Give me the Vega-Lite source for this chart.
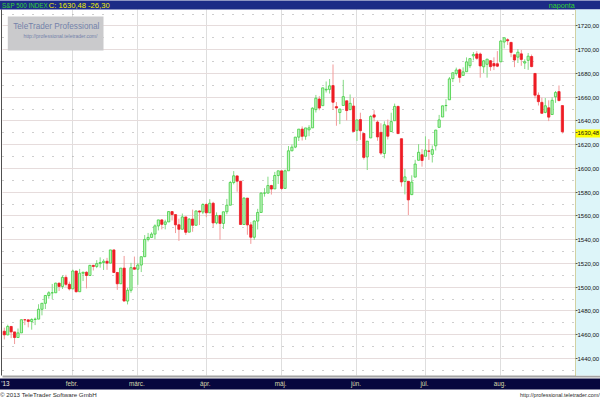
{
  "$schema": "https://vega.github.io/schema/vega-lite/v6.json",
  "width": 598,
  "height": 366,
  "autosize": {"type": "none"},
  "padding": {"left": 2, "top": 9, "right": 0, "bottom": 25},
  "background": "white",
  "config": {
    "view": {"stroke": null},
    "axis": {"labelFont": "Liberation Sans", "labelFontSize": 6.3, "title": null},
    "axisX": {"labelAngle": 0}
  },
  "data": {"values": [
    {"d":"2013-01-03","o":1462.42,"h":1465.47,"l":1455.53,"c":1459.37},
    {"d":"2013-01-04","o":1459.37,"h":1467.94,"l":1458.99,"c":1466.47},
    {"d":"2013-01-07","o":1466.47,"h":1466.47,"l":1456.62,"c":1461.89},
    {"d":"2013-01-08","o":1461.89,"h":1461.89,"l":1451.64,"c":1457.15},
    {"d":"2013-01-09","o":1457.15,"h":1464.73,"l":1457.15,"c":1461.02},
    {"d":"2013-01-10","o":1461.02,"h":1472.30,"l":1461.02,"c":1472.12},
    {"d":"2013-01-11","o":1472.12,"h":1472.75,"l":1467.58,"c":1472.05},
    {"d":"2013-01-14","o":1472.05,"h":1472.05,"l":1465.69,"c":1470.68},
    {"d":"2013-01-15","o":1470.67,"h":1473.31,"l":1463.76,"c":1472.34},
    {"d":"2013-01-16","o":1472.33,"h":1473.96,"l":1467.60,"c":1472.63},
    {"d":"2013-01-17","o":1472.63,"h":1485.16,"l":1472.63,"c":1480.94},
    {"d":"2013-01-18","o":1480.95,"h":1485.98,"l":1475.81,"c":1485.98},
    {"d":"2013-01-22","o":1485.98,"h":1492.56,"l":1481.16,"c":1492.56},
    {"d":"2013-01-23","o":1492.56,"h":1496.13,"l":1489.90,"c":1494.81},
    {"d":"2013-01-24","o":1494.81,"h":1502.27,"l":1489.46,"c":1494.82},
    {"d":"2013-01-25","o":1494.82,"h":1503.26,"l":1494.82,"c":1502.96},
    {"d":"2013-01-28","o":1502.96,"h":1503.23,"l":1496.33,"c":1500.18},
    {"d":"2013-01-29","o":1500.18,"h":1509.35,"l":1498.09,"c":1507.84},
    {"d":"2013-01-30","o":1507.84,"h":1509.94,"l":1500.11,"c":1501.96},
    {"d":"2013-01-31","o":1501.96,"h":1504.19,"l":1496.76,"c":1498.11},
    {"d":"2013-02-01","o":1498.11,"h":1514.41,"l":1498.11,"c":1513.17},
    {"d":"2013-02-04","o":1513.17,"h":1513.17,"l":1495.02,"c":1495.71},
    {"d":"2013-02-05","o":1495.71,"h":1514.96,"l":1495.71,"c":1511.29},
    {"d":"2013-02-06","o":1511.29,"h":1512.53,"l":1504.71,"c":1512.12},
    {"d":"2013-02-07","o":1512.12,"h":1512.90,"l":1498.49,"c":1509.39},
    {"d":"2013-02-08","o":1509.39,"h":1518.31,"l":1509.39,"c":1517.93},
    {"d":"2013-02-11","o":1517.93,"h":1518.31,"l":1513.61,"c":1517.01},
    {"d":"2013-02-12","o":1517.01,"h":1522.29,"l":1515.61,"c":1519.43},
    {"d":"2013-02-13","o":1519.43,"h":1524.69,"l":1515.93,"c":1520.33},
    {"d":"2013-02-14","o":1520.33,"h":1523.14,"l":1514.02,"c":1521.38},
    {"d":"2013-02-15","o":1521.38,"h":1524.24,"l":1514.14,"c":1519.79},
    {"d":"2013-02-19","o":1519.79,"h":1530.94,"l":1519.79,"c":1530.94},
    {"d":"2013-02-20","o":1530.94,"h":1530.94,"l":1511.41,"c":1511.95},
    {"d":"2013-02-21","o":1511.95,"h":1511.95,"l":1497.29,"c":1502.42},
    {"d":"2013-02-22","o":1502.42,"h":1515.64,"l":1502.42,"c":1515.60},
    {"d":"2013-02-25","o":1515.60,"h":1525.84,"l":1487.85,"c":1487.85},
    {"d":"2013-02-26","o":1487.85,"h":1498.99,"l":1485.01,"c":1496.94},
    {"d":"2013-02-27","o":1496.94,"h":1520.08,"l":1494.88,"c":1515.99},
    {"d":"2013-02-28","o":1515.99,"h":1525.34,"l":1514.46,"c":1514.68},
    {"d":"2013-03-01","o":1514.68,"h":1519.99,"l":1501.48,"c":1518.20},
    {"d":"2013-03-04","o":1518.20,"h":1525.27,"l":1512.29,"c":1525.20},
    {"d":"2013-03-05","o":1525.20,"h":1543.47,"l":1525.20,"c":1539.79},
    {"d":"2013-03-06","o":1539.79,"h":1545.25,"l":1538.11,"c":1541.46},
    {"d":"2013-03-07","o":1541.46,"h":1545.78,"l":1541.46,"c":1544.26},
    {"d":"2013-03-08","o":1544.26,"h":1552.48,"l":1539.94,"c":1551.18},
    {"d":"2013-03-11","o":1551.15,"h":1556.27,"l":1547.36,"c":1556.22},
    {"d":"2013-03-12","o":1556.22,"h":1556.77,"l":1548.24,"c":1552.48},
    {"d":"2013-03-13","o":1552.48,"h":1556.39,"l":1548.25,"c":1554.52},
    {"d":"2013-03-14","o":1554.52,"h":1563.32,"l":1554.52,"c":1563.23},
    {"d":"2013-03-15","o":1563.21,"h":1563.62,"l":1555.74,"c":1560.70},
    {"d":"2013-03-18","o":1560.70,"h":1560.70,"l":1545.13,"c":1552.10},
    {"d":"2013-03-19","o":1552.10,"h":1557.25,"l":1538.57,"c":1548.34},
    {"d":"2013-03-20","o":1548.34,"h":1561.56,"l":1548.34,"c":1558.71},
    {"d":"2013-03-21","o":1558.71,"h":1558.71,"l":1543.55,"c":1545.80},
    {"d":"2013-03-22","o":1545.90,"h":1557.74,"l":1545.90,"c":1556.89},
    {"d":"2013-03-25","o":1556.89,"h":1564.91,"l":1546.22,"c":1551.69},
    {"d":"2013-03-26","o":1551.69,"h":1563.95,"l":1551.69,"c":1563.77},
    {"d":"2013-03-27","o":1563.75,"h":1564.07,"l":1551.90,"c":1562.85},
    {"d":"2013-03-28","o":1562.86,"h":1570.28,"l":1561.08,"c":1569.19},
    {"d":"2013-04-01","o":1569.18,"h":1570.57,"l":1558.47,"c":1562.17},
    {"d":"2013-04-02","o":1562.17,"h":1573.66,"l":1562.17,"c":1570.25},
    {"d":"2013-04-03","o":1570.25,"h":1571.47,"l":1549.80,"c":1553.69},
    {"d":"2013-04-04","o":1553.69,"h":1562.60,"l":1552.52,"c":1559.98},
    {"d":"2013-04-05","o":1559.98,"h":1559.98,"l":1539.50,"c":1553.28},
    {"d":"2013-04-08","o":1553.26,"h":1563.07,"l":1548.63,"c":1563.07},
    {"d":"2013-04-09","o":1563.11,"h":1573.89,"l":1560.92,"c":1568.61},
    {"d":"2013-04-10","o":1568.61,"h":1589.07,"l":1568.61,"c":1587.73},
    {"d":"2013-04-11","o":1587.73,"h":1597.35,"l":1586.17,"c":1593.37},
    {"d":"2013-04-12","o":1593.30,"h":1593.30,"l":1579.97,"c":1588.85},
    {"d":"2013-04-15","o":1588.84,"h":1588.84,"l":1552.28,"c":1552.36},
    {"d":"2013-04-16","o":1552.36,"h":1575.35,"l":1552.36,"c":1574.57},
    {"d":"2013-04-17","o":1574.57,"h":1574.57,"l":1543.69,"c":1552.01},
    {"d":"2013-04-18","o":1552.03,"h":1554.38,"l":1536.03,"c":1541.61},
    {"d":"2013-04-19","o":1541.61,"h":1555.89,"l":1539.40,"c":1555.25},
    {"d":"2013-04-22","o":1555.25,"h":1565.55,"l":1548.19,"c":1562.50},
    {"d":"2013-04-23","o":1562.50,"h":1579.58,"l":1562.50,"c":1578.78},
    {"d":"2013-04-24","o":1578.78,"h":1583.00,"l":1575.80,"c":1578.79},
    {"d":"2013-04-25","o":1578.78,"h":1592.64,"l":1578.78,"c":1585.16},
    {"d":"2013-04-26","o":1585.16,"h":1585.78,"l":1577.56,"c":1582.24},
    {"d":"2013-04-29","o":1582.34,"h":1596.65,"l":1582.34,"c":1593.61},
    {"d":"2013-04-30","o":1593.58,"h":1597.57,"l":1586.50,"c":1597.57},
    {"d":"2013-05-01","o":1597.55,"h":1597.55,"l":1581.28,"c":1582.70},
    {"d":"2013-05-02","o":1582.77,"h":1598.60,"l":1582.77,"c":1597.59},
    {"d":"2013-05-03","o":1597.60,"h":1618.46,"l":1597.60,"c":1614.42},
    {"d":"2013-05-06","o":1614.40,"h":1619.77,"l":1614.21,"c":1617.50},
    {"d":"2013-05-07","o":1617.55,"h":1626.03,"l":1616.64,"c":1625.96},
    {"d":"2013-05-08","o":1625.95,"h":1632.78,"l":1622.70,"c":1632.69},
    {"d":"2013-05-09","o":1632.69,"h":1635.01,"l":1623.09,"c":1626.67},
    {"d":"2013-05-10","o":1626.69,"h":1633.70,"l":1623.71,"c":1633.70},
    {"d":"2013-05-13","o":1632.10,"h":1636.00,"l":1626.74,"c":1633.77},
    {"d":"2013-05-14","o":1633.75,"h":1651.10,"l":1633.75,"c":1650.34},
    {"d":"2013-05-15","o":1649.13,"h":1661.49,"l":1646.68,"c":1658.78},
    {"d":"2013-05-16","o":1658.07,"h":1660.51,"l":1648.60,"c":1650.47},
    {"d":"2013-05-17","o":1652.45,"h":1667.47,"l":1652.45,"c":1667.47},
    {"d":"2013-05-20","o":1665.71,"h":1672.84,"l":1663.52,"c":1666.29},
    {"d":"2013-05-21","o":1666.20,"h":1674.93,"l":1662.67,"c":1669.16},
    {"d":"2013-05-22","o":1669.39,"h":1687.18,"l":1648.86,"c":1655.35},
    {"d":"2013-05-23","o":1651.62,"h":1655.50,"l":1635.53,"c":1650.51},
    {"d":"2013-05-24","o":1646.67,"h":1649.78,"l":1636.88,"c":1649.60},
    {"d":"2013-05-28","o":1652.63,"h":1674.21,"l":1652.63,"c":1660.06},
    {"d":"2013-05-29","o":1656.57,"h":1656.57,"l":1640.05,"c":1648.36},
    {"d":"2013-05-30","o":1649.14,"h":1661.91,"l":1648.61,"c":1654.41},
    {"d":"2013-05-31","o":1652.13,"h":1658.99,"l":1630.74,"c":1630.74},
    {"d":"2013-06-03","o":1631.71,"h":1640.42,"l":1622.72,"c":1640.42},
    {"d":"2013-06-04","o":1640.73,"h":1646.53,"l":1623.62,"c":1631.38},
    {"d":"2013-06-05","o":1629.05,"h":1629.31,"l":1607.09,"c":1608.90},
    {"d":"2013-06-06","o":1609.29,"h":1622.56,"l":1598.23,"c":1622.56},
    {"d":"2013-06-07","o":1625.27,"h":1644.40,"l":1625.27,"c":1643.38},
    {"d":"2013-06-10","o":1644.67,"h":1648.69,"l":1639.26,"c":1642.81},
    {"d":"2013-06-11","o":1638.64,"h":1640.13,"l":1622.92,"c":1626.13},
    {"d":"2013-06-12","o":1629.94,"h":1637.71,"l":1610.92,"c":1612.52},
    {"d":"2013-06-13","o":1612.15,"h":1639.25,"l":1608.07,"c":1636.36},
    {"d":"2013-06-14","o":1635.52,"h":1640.80,"l":1623.96,"c":1626.73},
    {"d":"2013-06-17","o":1630.64,"h":1646.50,"l":1630.34,"c":1639.04},
    {"d":"2013-06-18","o":1639.77,"h":1654.19,"l":1639.77,"c":1651.81},
    {"d":"2013-06-19","o":1651.83,"h":1652.45,"l":1628.91,"c":1628.93},
    {"d":"2013-06-20","o":1624.62,"h":1624.62,"l":1584.32,"c":1588.19},
    {"d":"2013-06-21","o":1588.62,"h":1599.19,"l":1577.70,"c":1592.43},
    {"d":"2013-06-24","o":1588.77,"h":1588.77,"l":1560.33,"c":1573.09},
    {"d":"2013-06-25","o":1577.52,"h":1593.79,"l":1577.09,"c":1588.03},
    {"d":"2013-06-26","o":1592.27,"h":1606.83,"l":1592.27,"c":1603.26},
    {"d":"2013-06-27","o":1606.44,"h":1620.07,"l":1606.44,"c":1613.20},
    {"d":"2013-06-28","o":1611.12,"h":1615.94,"l":1601.06,"c":1606.28},
    {"d":"2013-07-01","o":1609.78,"h":1626.61,"l":1609.78,"c":1614.96},
    {"d":"2013-07-02","o":1614.29,"h":1624.26,"l":1606.77,"c":1614.08},
    {"d":"2013-07-03","o":1611.48,"h":1618.97,"l":1604.57,"c":1615.41},
    {"d":"2013-07-05","o":1618.65,"h":1632.07,"l":1614.71,"c":1631.89},
    {"d":"2013-07-08","o":1634.20,"h":1644.68,"l":1634.20,"c":1640.46},
    {"d":"2013-07-09","o":1642.89,"h":1652.48,"l":1642.89,"c":1652.32},
    {"d":"2013-07-10","o":1652.50,"h":1657.92,"l":1647.66,"c":1652.62},
    {"d":"2013-07-11","o":1657.41,"h":1676.63,"l":1657.41,"c":1675.02},
    {"d":"2013-07-12","o":1675.26,"h":1680.19,"l":1672.33,"c":1680.19},
    {"d":"2013-07-15","o":1679.59,"h":1684.51,"l":1677.89,"c":1682.50},
    {"d":"2013-07-16","o":1682.70,"h":1683.73,"l":1671.84,"c":1676.26},
    {"d":"2013-07-17","o":1677.91,"h":1684.75,"l":1677.91,"c":1680.91},
    {"d":"2013-07-18","o":1681.05,"h":1693.12,"l":1681.05,"c":1689.37},
    {"d":"2013-07-19","o":1686.15,"h":1692.09,"l":1684.08,"c":1692.09},
    {"d":"2013-07-22","o":1694.41,"h":1697.61,"l":1690.67,"c":1695.53},
    {"d":"2013-07-23","o":1696.06,"h":1698.38,"l":1691.13,"c":1692.39},
    {"d":"2013-07-24","o":1695.95,"h":1697.19,"l":1676.03,"c":1685.94},
    {"d":"2013-07-25","o":1685.21,"h":1690.94,"l":1680.07,"c":1690.25},
    {"d":"2013-07-26","o":1687.31,"h":1691.85,"l":1676.03,"c":1691.65},
    {"d":"2013-07-29","o":1690.32,"h":1690.92,"l":1681.86,"c":1685.33},
    {"d":"2013-07-30","o":1687.92,"h":1693.19,"l":1682.42,"c":1685.96},
    {"d":"2013-07-31","o":1687.76,"h":1698.43,"l":1684.94,"c":1685.73},
    {"d":"2013-08-01","o":1689.42,"h":1707.85,"l":1689.42,"c":1706.87},
    {"d":"2013-08-02","o":1706.10,"h":1709.67,"l":1700.68,"c":1709.67},
    {"d":"2013-08-05","o":1708.01,"h":1709.24,"l":1703.55,"c":1707.14},
    {"d":"2013-08-06","o":1705.79,"h":1705.79,"l":1693.29,"c":1697.37},
    {"d":"2013-08-07","o":1695.30,"h":1695.30,"l":1684.91,"c":1690.91},
    {"d":"2013-08-08","o":1693.35,"h":1700.18,"l":1688.38,"c":1697.48},
    {"d":"2013-08-09","o":1696.10,"h":1699.42,"l":1686.02,"c":1691.42},
    {"d":"2013-08-12","o":1688.37,"h":1691.49,"l":1683.35,"c":1689.47},
    {"d":"2013-08-13","o":1690.65,"h":1696.81,"l":1682.62,"c":1694.16},
    {"d":"2013-08-14","o":1693.88,"h":1695.52,"l":1684.83,"c":1685.39},
    {"d":"2013-08-15","o":1679.61,"h":1679.61,"l":1658.59,"c":1661.32},
    {"d":"2013-08-16","o":1661.22,"h":1663.60,"l":1652.61,"c":1655.83},
    {"d":"2013-08-19","o":1655.25,"h":1659.18,"l":1645.84,"c":1646.06},
    {"d":"2013-08-20","o":1646.81,"h":1658.92,"l":1646.08,"c":1652.35},
    {"d":"2013-08-21","o":1650.66,"h":1656.99,"l":1639.43,"c":1642.80},
    {"d":"2013-08-22","o":1645.03,"h":1659.55,"l":1645.03,"c":1656.96},
    {"d":"2013-08-23","o":1659.92,"h":1664.85,"l":1654.81,"c":1663.50},
    {"d":"2013-08-26","o":1664.29,"h":1669.51,"l":1656.02,"c":1656.78},
    {"d":"2013-08-27","o":1652.54,"h":1652.54,"l":1629.05,"c":1630.48}
  ]},
  "resolve": {"axis": {"x": "independent", "y": "independent"}},
  "layer": [
    {
      "mark": {"type": "rule", "strokeWidth": 1},
      "encoding": {
        "x": {"field": "d", "type": "ordinal",
          "scale": {"type": "band", "paddingInner": 0.35, "paddingOuter": 0.5, "align": 0.346,
            "domain": {"unionWith": ["2013-08-28","2013-08-29","2013-08-30","2013-09-03","2013-09-04","2013-09-05","2013-09-06","2013-09-09","2013-09-10","2013-09-11"]}},
          "axis": {"orient": "bottom", "title": null, "values": ["2013-02-01","2013-03-01","2013-04-01","2013-05-01","2013-06-03","2013-07-01","2013-08-01"],
            "grid": true, "gridColor": "#dedede", "gridWidth": 1,
            "domain": true, "domainColor": "#a4a4a4", "domainWidth": 2, "offset": 1,
            "ticks": false, "tickSize": 0, "labels": false, "zindex": 0}},
        "y": {"field": "l", "type": "quantitative",
          "scale": {"domain": [1425.56, 1733.9], "zero": false, "nice": false},
          "axis": {"orient": "left", "title": null, "values": [1440,1460,1480,1500,1520,1540,1560,1580,1600,1620,1640,1660,1680,1700,1720],
            "grid": true, "gridColor": "#e6dcdc", "gridWidth": 1,
            "domain": true, "domainColor": "#505050", "domainWidth": 1, "offset": 1,
            "ticks": false, "tickSize": 0, "labels": false, "zindex": 0}},
        "y2": {"field": "h"},
        "color": {"condition": {"test": "datum.c >= datum.o", "value": "#84da84"}, "value": "#f29a9a"}
      }
    },
    {
      "mark": {"type": "bar", "strokeWidth": 0.8},
      "encoding": {
        "x": {"field": "d", "type": "ordinal",
          "axis": {"orient": "bottom", "title": null, "grid": false, "domain": true, "domainColor": "#07073e", "domainWidth": 11, "domainCap": "square", "offset": 8.5,
            "ticks": false, "tickSize": 0, "labels": false, "zindex": 1}},
        "y": {"field": "o", "type": "quantitative",
          "axis": {"orient": "left", "title": null, "values": [1430,1450,1470,1490,1510,1530,1550,1570,1590,1610,1630,1650,1670,1690,1710,1730],
            "grid": true, "gridColor": "#9c9c9c", "gridDash": [1, 9], "gridWidth": 1,
            "domain": false, "ticks": false, "tickSize": 0, "labels": false, "zindex": 0}},
        "y2": {"field": "c"},
        "fill": {"condition": {"test": "datum.c >= datum.o", "value": "#c2f2c2"}, "value": "#ee1c24"},
        "stroke": {"condition": {"test": "datum.c >= datum.o", "value": "#3fcf3f"}, "value": "#ee1c24"}
      }
    },
    {
      "transform": [{"filter": "false"}],
      "mark": {"type": "point", "opacity": 0},
      "encoding": {
        "x": {"field": "d", "type": "ordinal",
          "axis": {"orient": "bottom", "title": null, "labelAngle": 0, "values": ["2013-01-03","2013-02-01","2013-03-01","2013-04-01","2013-05-01","2013-06-03","2013-07-01","2013-08-01"],
            "labelExpr": "datum.value == '2013-01-03' ? \"'13\" : ['', 'jan.', 'febr.', 'márc.', 'ápr.', 'máj.', 'jún.', 'júl.', 'aug.'][toNumber(substring(datum.value, 5, 7))]",
            "labelAlign": {"condition": {"test": "datum.value == '2013-01-03'", "value": "left"}, "value": "center"},
            "labelOffset": {"condition": {"test": "datum.value == '2013-01-03'", "value": -3}, "value": -1},
            "labelColor": {"condition": {"test": "datum.value == '2013-01-03'", "value": "#f0f0e0"}, "value": "#d8d8ac"},
            "labelFontSize": 6.3, "labelBaseline": "alphabetic", "labelPadding": 10.7, "labelOverlap": false,
            "ticks": false, "tickSize": 0, "domain": false, "grid": false, "zindex": 2}},
        "y": {"field": "c", "type": "quantitative",
          "axis": {"orient": "left", "title": null, "offset": -101, "values": [1713.7],
            "domain": false, "grid": false, "ticks": true, "tickSize": 95.7, "tickWidth": 34, "tickColor": "#cacacc", "tickCap": "butt",
            "labelExpr": "'TeleTrader Professional'", "labelAlign": "left", "labelBaseline": "alphabetic",
            "labelPadding": -5.4, "labelOffset": -4.5, "labelFontSize": 8.2, "labelColor": "#7482aa", "labelOverlap": false, "zindex": 1}}
      }
    },
    {
      "transform": [{"filter": "false"}],
      "mark": {"type": "point", "opacity": 0},
      "encoding": {
        "x": {"field": "d", "type": "ordinal",
          "axis": {"orient": "bottom", "title": null, "labelAngle": 0, "values": ["2013-01-03","2013-08-27"],
            "labelExpr": "datum.value == '2013-01-03' ? '© 2013 TeleTrader Software GmbH' : 'http://professional.teletrader.com/'",
            "labelAlign": {"condition": {"test": "datum.value == '2013-01-03'", "value": "left"}, "value": "right"},
            "labelOffset": {"condition": {"test": "datum.value == '2013-01-03'", "value": -4.3}, "value": 37.3},
            "labelFontSize": {"condition": {"test": "datum.value == '2013-01-03'", "value": 6.2}, "value": 5.4},
            "labelColor": "#2b2b2b", "labelBaseline": "alphabetic", "labelPadding": 21, "labelOverlap": false,
            "ticks": false, "tickSize": 0, "domain": false, "grid": false, "zindex": 2}},
        "y": {"field": "c", "type": "quantitative",
          "axis": {"orient": "left", "title": null, "offset": -101, "values": [1713.7],
            "domain": false, "grid": false, "ticks": false, "tickSize": 0,
            "labelExpr": "'http://professional.teletrader.com/'", "labelAlign": "left", "labelBaseline": "alphabetic",
            "labelPadding": 80, "labelOffset": 4.8, "labelFontSize": 5, "labelColor": "#7482aa", "labelOverlap": false, "zindex": 2}}
      }
    },
    {
      "transform": [{"filter": "false"}],
      "mark": {"type": "point", "opacity": 0},
      "encoding": {
        "x": {"field": "d", "type": "ordinal",
          "axis": {"orient": "top", "title": null, "offset": 4.5, "domain": true, "domainColor": "#1c2b86", "domainWidth": 9, "domainCap": "square",
            "ticks": false, "tickSize": 0, "labels": false, "grid": false, "zindex": 1}},
        "y": {"field": "c", "type": "quantitative",
          "axis": {"orient": "right", "title": null, "offset": -12.5, "domain": true, "domainColor": "#ddf5f9", "domainWidth": 25, "domainCap": "butt",
            "ticks": false, "tickSize": 0, "labels": false, "grid": false, "zindex": 1}}
      }
    },
    {
      "transform": [{"filter": "false"}],
      "mark": {"type": "point", "opacity": 0},
      "encoding": {
        "x": {"field": "d", "type": "ordinal",
          "axis": {"orient": "top", "title": null, "labelAngle": 0, "values": ["2013-01-03","2013-01-23","2013-08-21"],
            "labelExpr": "datum.value == '2013-01-03' ? 'S&P 500 INDEX' : datum.value == '2013-01-23' ? 'C: 1630,48 -26,30' : 'naponta'",
            "labelAlign": "left",
            "labelOffset": {"condition": {"test": "datum.value == '2013-01-03'", "value": -2.3}, "value": 0},
            "labelColor": {"condition": {"test": "datum.value == '2013-01-23'", "value": "#f2f200"}, "value": "#33d633"},
            "labelFontSize": {"condition": [{"test": "datum.value == '2013-01-23'", "value": 7.6}, {"test": "datum.value == '2013-01-03'", "value": 6.3}], "value": 7.2},
            "labelBaseline": "alphabetic", "labelPadding": 1.7, "labelOverlap": false,
            "ticks": false, "tickSize": 0, "domain": false, "grid": false, "zindex": 2}},
        "y": {"field": "c", "type": "quantitative",
          "axis": {"orient": "right", "title": null, "offset": -25, "values": [1630.48],
            "ticks": true, "tickSize": 25, "tickWidth": 8, "tickColor": "#ffff00", "tickCap": "butt", "tickOffset": 1,
            "labels": false, "domain": false, "grid": false, "zindex": 2}}
      }
    },
    {
      "transform": [{"filter": "false"}],
      "mark": {"type": "point", "opacity": 0},
      "encoding": {
        "y": {"field": "c", "type": "quantitative",
          "axis": {"orient": "right", "title": null, "offset": -25,
            "values": [1440,1460,1480,1500,1520,1540,1560,1580,1600,1620,1640,1660,1680,1700,1720,1630.48],
            "labelExpr": "replace(format(datum.value, '.2f'), '.', ',')",
            "labelAlign": "left", "labelBaseline": "middle", "labelPadding": 0, "labelOffset": 0.5,
            "labelColor": "#111111", "labelFontSize": 6, "labelOverlap": false,
            "ticks": true, "tickSize": 2, "tickColor": "#555555", "tickWidth": 1,
            "domain": true, "domainColor": "#b4a84a", "domainDash": [1, 1], "domainWidth": 1,
            "grid": false, "zindex": 3}}
      }
    }
  ]
}
